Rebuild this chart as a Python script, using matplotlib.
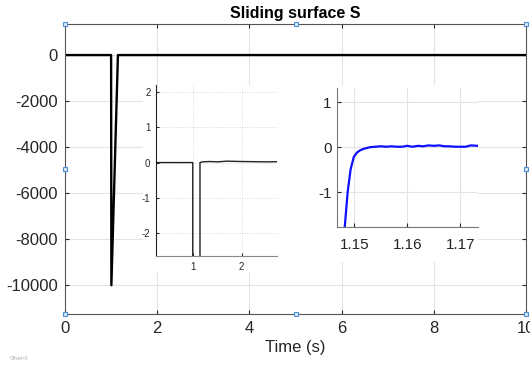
import matplotlib
matplotlib.use("Agg")
import matplotlib.pyplot as plt
from matplotlib.patches import Rectangle

plt.rcParams['font.family'] = ['Liberation Sans', 'DejaVu Sans']
plt.rcParams['axes.unicode_minus'] = False

# sliding surface S over the whole run
t_main = [0, 1.0, 1.006, 1.148, 1.2, 1.35, 1.5, 1.7, 2.0, 2.5, 3.0, 4.0, 6.0, 10.0]
s_main = [0, 0, -10000, 0.0, 0.02, 0.03, 0.02, 0.04, 0.03, 0.02, 0.03, 0.02, 0.02, 0.02]

# detail around the return to zero
t_zoom = [1.1482, 1.14875, 1.1493, 1.1499, 1.1505, 1.1511, 1.1517, 1.1523, 1.153,
          1.154, 1.155, 1.156, 1.157, 1.158, 1.159, 1.160, 1.161, 1.162, 1.163,
          1.164, 1.165, 1.166, 1.167, 1.168, 1.169, 1.170, 1.171, 1.172, 1.1733]
s_zoom = [-1.78, -1.0, -0.5, -0.22, -0.12, -0.07, -0.04, -0.02, 0.0,
          0.01, 0.02, 0.01, 0.02, 0.01, 0.01, 0.03, 0.01, 0.03, 0.02,
          0.04, 0.03, 0.04, 0.02, 0.02, 0.01, 0.01, 0.01, 0.04, 0.03]

main_xticks = [0, 2, 4, 6, 8, 10]
main_yticks = [0, -2000, -4000, -6000, -8000, -10000]
in1_xticks = [1, 2]
in1_yticks = [2, 1, 0, -1, -2]
in2_xticks = [1.15, 1.16, 1.17]
in2_yticks = [1, 0, -1]

fig = plt.figure(figsize=(5.3, 3.69), dpi=100)
W, H = 530.0, 369.0

def fpos(x0, y0, x1, y1):
    return [x0 / W, 1 - y1 / H, (x1 - x0) / W, (y1 - y0) / H]

dark = '#262626'

ax = fig.add_axes(fpos(65, 24, 526, 314))
ax.plot(t_main, s_main, color='black', lw=1.7)
ax.set_xlim(0, 10)
ax.set_ylim(-11250, 1350)
ax.set_xticks(main_xticks)
ax.set_yticks(main_yticks)
ax.set_yticklabels([str(v) for v in main_yticks])
ax.grid(True, color='#e3e3e3', lw=0.8)
ax.tick_params(direction='in', length=3, labelsize=12, colors=dark, top=True, right=True, pad=5)
for s in ax.spines.values():
    s.set_color('#555555')
    s.set_linewidth(0.8)
ax.set_title('Sliding surface S', fontsize=11.5, fontweight='bold', color='black', pad=4)
ax.set_xlabel('Time (s)', fontsize=12, color=dark, labelpad=3)

# selection handles on the main axes box
for hx in (0, 0.5, 1):
    for hy in (0, 0.5, 1):
        if hx == 0.5 and hy == 0.5:
            continue
        ax.plot([hx], [hy], marker='s', ms=3.5, mfc='#dbe9f7', mec='#4a90d9', mew=0.8,
                transform=ax.transAxes, clip_on=False, zorder=10)

# white backgrounds of the pasted insets
fig.add_artist(Rectangle((143 / W, 1 - 272 / H), (277 - 143) / W, (272 - 85) / H,
                         transform=fig.transFigure, facecolor='white', edgecolor='none', zorder=2))
fig.add_artist(Rectangle((277 / W, 1 - 262 / H), (478 - 277) / W, (262 - 85) / H,
                         transform=fig.transFigure, facecolor='white', edgecolor='none', zorder=2))

# inset 1
ax1 = fig.add_axes(fpos(156, 85, 277, 256))
ax1.set_zorder(3)
ax1.plot(t_main, s_main, color='#222222', lw=1.0)
ax1.set_xlim(0.25, 2.72)
ax1.set_ylim(-2.65, 2.2)
ax1.set_xticks(in1_xticks)
ax1.set_yticks(in1_yticks)
ax1.grid(True, color='#d0d0d0', lw=0.6, ls=':')
ax1.tick_params(direction='in', length=2.5, labelsize=7, colors=dark, pad=4)
for side in ('top', 'right'):
    ax1.spines[side].set_visible(False)
ax1.spines['left'].set_color('#222222')
ax1.spines['bottom'].set_color('#888888')

# inset 2
ax2 = fig.add_axes(fpos(337, 88, 478, 227))
ax2.set_zorder(3)
ax2.plot(t_zoom, s_zoom, color='#1010ff', lw=1.6)
ax2.set_xlim(1.14674, 1.17334)
ax2.set_ylim(-1.78, 1.32)
ax2.set_xticks(in2_xticks)
ax2.set_xticklabels(['1.15', '1.16', '1.17'])
ax2.set_yticks(in2_yticks)
ax2.grid(True, color='#e3e3e3', lw=0.8)
ax2.tick_params(direction='in', length=3, labelsize=11, colors=dark, pad=8)
ax2.tick_params(axis='y', pad=4)
for side in ('top', 'right'):
    ax2.spines[side].set_visible(False)
for side in ('left', 'bottom'):
    ax2.spines[side].set_color('#777777')

fig.text(10 / W, 1 - 358 / H, 'Offset=0', fontsize=3.5, color='#aaaaaa', va='center')

fig.savefig('out.png', dpi=100)
